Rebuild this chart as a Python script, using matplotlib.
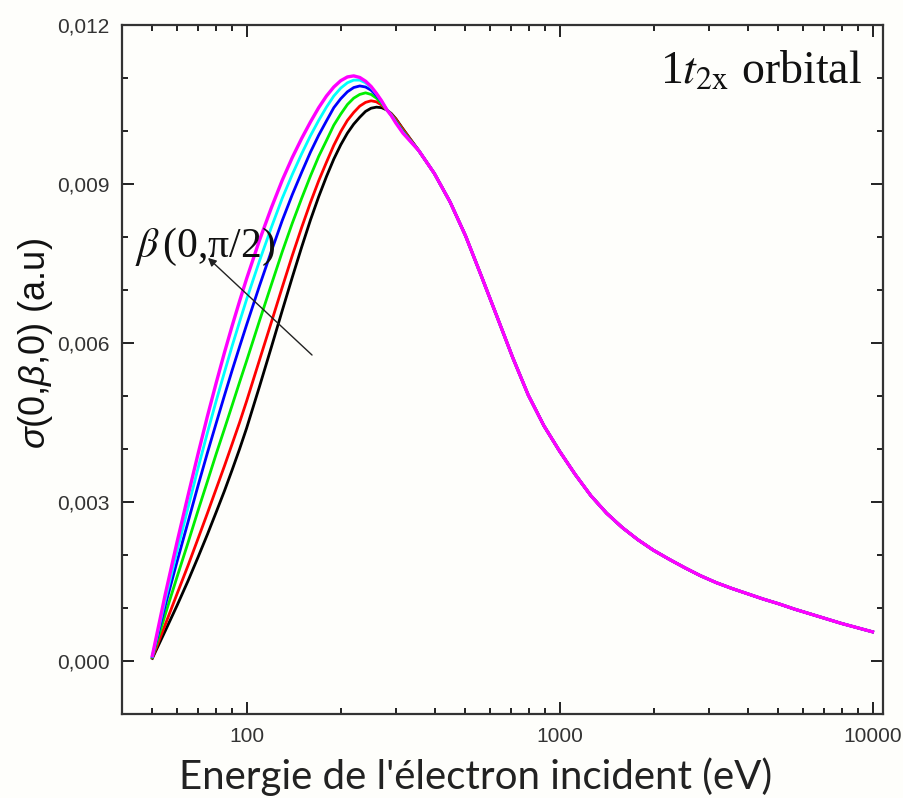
import matplotlib
matplotlib.use('Agg')
import matplotlib.pyplot as plt
from matplotlib.ticker import FixedLocator, FixedFormatter, LogLocator, MultipleLocator, NullFormatter

# ---------------- data ----------------
# low-energy part: the six curves are separated
energy_rise = [50, 55, 60, 65, 70, 75, 80, 85, 90, 95, 100, 110, 120, 130, 140, 150,
               160, 170, 180, 190, 200, 210, 220, 230, 240, 250, 260, 270, 280, 290,
               300, 316]

sigma_black = [0.00005, 0.00057, 0.00105, 0.00151, 0.00196, 0.00239, 0.00281, 0.00321,
               0.00361, 0.00400, 0.00439, 0.00518, 0.00592, 0.00661, 0.00724, 0.00781,
               0.00832, 0.00876, 0.00914, 0.00947, 0.00974, 0.00996, 0.01013, 0.01026,
               0.01037, 0.01043, 0.01045, 0.01044, 0.01040, 0.01033, 0.01023, 0.01004]
sigma_red = [0.00006, 0.00069, 0.00127, 0.00180, 0.00231, 0.00279, 0.00325, 0.00368,
             0.00410, 0.00450, 0.00490, 0.00568, 0.00639, 0.00705, 0.00765, 0.00818,
             0.00865, 0.00906, 0.00941, 0.00973, 0.00999, 0.01020, 0.01035, 0.01047,
             0.01054, 0.01057, 0.01055, 0.01049, 0.01040, 0.01032, 0.01022, 0.01003]
sigma_green = [0.00007, 0.00088, 0.00159, 0.00223, 0.00284, 0.00339, 0.00391, 0.00438,
               0.00483, 0.00526, 0.00566, 0.00642, 0.00710, 0.00772, 0.00826, 0.00873,
               0.00915, 0.00952, 0.00982, 0.01011, 0.01032, 0.01050, 0.01062, 0.01069,
               0.01072, 0.01069, 0.01062, 0.01052, 0.01040, 0.01031, 0.01019, 0.01000]
sigma_blue = [0.00008, 0.00105, 0.00188, 0.00262, 0.00331, 0.00393, 0.00449, 0.00501,
              0.00549, 0.00593, 0.00634, 0.00708, 0.00773, 0.00831, 0.00880, 0.00922,
              0.00960, 0.00992, 0.01019, 0.01044, 0.01061, 0.01074, 0.01082, 0.01085,
              0.01083, 0.01077, 0.01067, 0.01055, 0.01041, 0.01030, 0.01017, 0.00998]
sigma_cyan = [0.00009, 0.00116, 0.00208, 0.00289, 0.00364, 0.00431, 0.00491, 0.00545,
              0.00595, 0.00640, 0.00682, 0.00755, 0.00818, 0.00873, 0.00918, 0.00957,
              0.00991, 0.01020, 0.01045, 0.01066, 0.01081, 0.01091, 0.01096, 0.01096,
              0.01091, 0.01082, 0.01070, 0.01056, 0.01041, 0.01030, 0.01016, 0.00997]
sigma_magenta = [0.00010, 0.00126, 0.00225, 0.00312, 0.00391, 0.00462, 0.00525, 0.00582,
                 0.00633, 0.00679, 0.00721, 0.00794, 0.00855, 0.00907, 0.00950, 0.00986,
                 0.01017, 0.01044, 0.01066, 0.01083, 0.01095, 0.01102, 0.01104, 0.01101,
                 0.01094, 0.01084, 0.01071, 0.01057, 0.01041, 0.01029, 0.01015, 0.00996]

# high-energy part: all six curves coincide
energy_tail = [355, 398, 447, 501, 562, 631, 708, 794, 891, 1000, 1122, 1259, 1413,
               1585, 1778, 1995, 2239, 2512, 2818, 3162, 3548, 3981, 4467, 5012,
               5623, 6310, 7079, 7943, 8913, 10000]
sigma_tail = [0.00963, 0.00920, 0.00866, 0.00802, 0.00727, 0.00650, 0.00573, 0.00502,
              0.00444, 0.00396, 0.00352, 0.00312, 0.00279, 0.00252, 0.00229, 0.00209,
              0.00192, 0.00176, 0.00161, 0.00148, 0.00137, 0.00127, 0.00117, 0.00108,
              0.00098, 0.00089, 0.00080, 0.00071, 0.00063, 0.00055]

series_names = ['black', 'red', 'green', 'blue', 'cyan', 'magenta']
series_values = [sigma_black, sigma_red, sigma_green, sigma_blue, sigma_cyan, sigma_magenta]
series_colors = ['#000000', '#ff0000', '#00ee00', '#0000ff', '#00ffff', '#ff00ff']

ytick_values = [0.000, 0.003, 0.006, 0.009, 0.012]
ytick_labels = ['0,000', '0,003', '0,006', '0,009', '0,012']
xtick_values = [100, 1000, 10000]
xtick_labels = ['100', '1000', '10000']

# ---------------- figure ----------------
plt.rcParams['mathtext.fontset'] = 'custom'
plt.rcParams['mathtext.rm'] = 'Liberation Sans'
plt.rcParams['mathtext.it'] = 'Liberation Sans:italic'

bg = '#fefefb'
W, H = 904, 798
fig = plt.figure(figsize=(W / 100, H / 100), dpi=100, facecolor=bg)
ax = fig.add_axes([122 / W, 1 - 714 / H, 761 / W, 689 / H], facecolor=bg)

for name, vals, col in zip(series_names, series_values, series_colors):
    ax.plot(energy_rise + energy_tail, vals + sigma_tail, color=col,
            lw=2.4 if name == 'magenta' else 2.0, solid_joinstyle='round')

ax.set_xscale('log')
ax.set_xlim(40, 10800)
ax.set_ylim(-0.001, 0.012)

ax.xaxis.set_major_locator(FixedLocator(xtick_values))
ax.xaxis.set_major_formatter(FixedFormatter(xtick_labels))
ax.xaxis.set_minor_locator(LogLocator(base=10, subs=range(2, 10), numticks=20))
ax.xaxis.set_minor_formatter(NullFormatter())
ax.yaxis.set_major_locator(FixedLocator(ytick_values))
ax.yaxis.set_major_formatter(FixedFormatter(ytick_labels))
ax.yaxis.set_minor_locator(MultipleLocator(0.001))

ax.tick_params(which='both', direction='in', top=True, right=True,
               color='#222222', width=1.4, labelcolor='#333333', labelsize=15, pad=9)
ax.tick_params(which='major', length=8.5)
ax.tick_params(which='minor', length=4.5)
for lab in ax.get_xticklabels() + ax.get_yticklabels():
    lab.set_family('Liberation Sans')
for sp in ax.spines.values():
    sp.set_linewidth(1.6)
    sp.set_color('#333333')

# axis labels
fig.text(36 / W, 1 - 344 / H, r'$\sigma$(0,$\beta$,0) (a.u)', rotation=90,
         fontsize=26, ha='center', va='center', family='Liberation Sans', color='#111111')
fig.text(476 / W, 1 - 789 / H, "Energie de l'électron incident (eV)", family='Lato',
         fontsize=29, ha='center', va='baseline', color='#222222')

# annotations
ax.text(0.9724, 0.9158, r'1$t_{\mathrm{2x}}$ orbital', transform=ax.transAxes,
        ha='right', va='baseline', fontsize=33, family='Liberation Serif',
        math_fontfamily='stix', color='#111111')
ax.text(0.017, 0.663, r'$\beta\,$(0,π/2)', transform=ax.transAxes,
        ha='left', va='baseline', fontsize=30, family='Liberation Serif',
        math_fontfamily='stix', color='#111111')
ax.annotate('', xy=(0.113, 0.662), xytext=(0.2497, 0.521),
            xycoords='axes fraction', textcoords='axes fraction',
            arrowprops=dict(arrowstyle='-|>', color='#222222', lw=1.0,
                            mutation_scale=12, shrinkA=0, shrinkB=0))

fig.savefig('out.png', dpi=100, facecolor=bg)
